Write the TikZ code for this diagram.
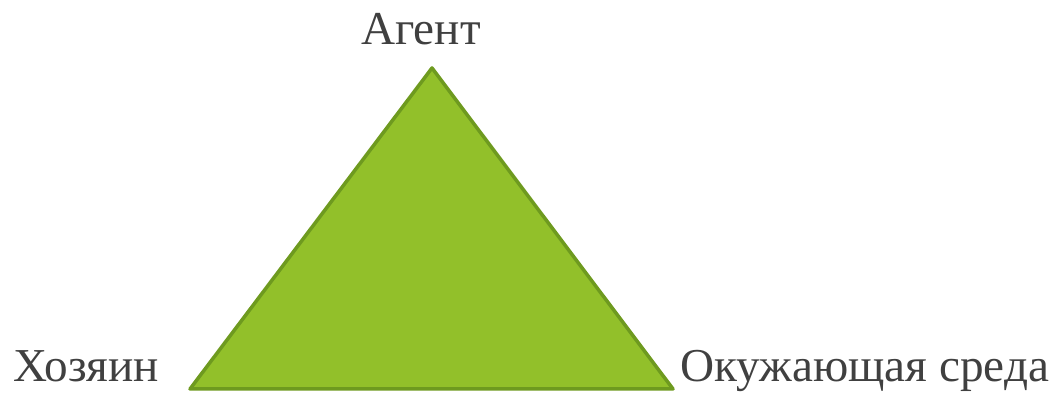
\documentclass[tikz,border=0pt]{standalone}
\usepackage{fontspec}
\setmainfont{Liberation Serif}
\newfontfamily\lser{Liberation Serif}[Script=Cyrillic]
\definecolor{trifill}{HTML}{92C02A}
\definecolor{triedge}{HTML}{6E9A1F}
\definecolor{txt}{HTML}{404040}
\begin{document}
\begin{tikzpicture}[x=0.5pt,y=-0.5pt,
  lbl/.style={inner sep=0pt,text=txt,font=\lser\fontsize{23.6pt}{28pt}\selectfont}]
\useasboundingbox (0,0) rectangle (1061,394);
\coordinate (top) at (432,68);
\coordinate (bl) at (190,389);
\coordinate (br) at (673,389);
\filldraw[fill=trifill,draw=triedge,line width=1.75pt,line join=round] (top) -- (br) -- (bl) -- cycle;
\node[lbl,anchor=base] (agent) at (421,45) {Агент};
\node[lbl,anchor=base west] (host) at (13,382) {Хозяин};
\node[lbl,anchor=base west] (env) at (680,382) {Окужающая среда};
\end{tikzpicture}
\end{document}
